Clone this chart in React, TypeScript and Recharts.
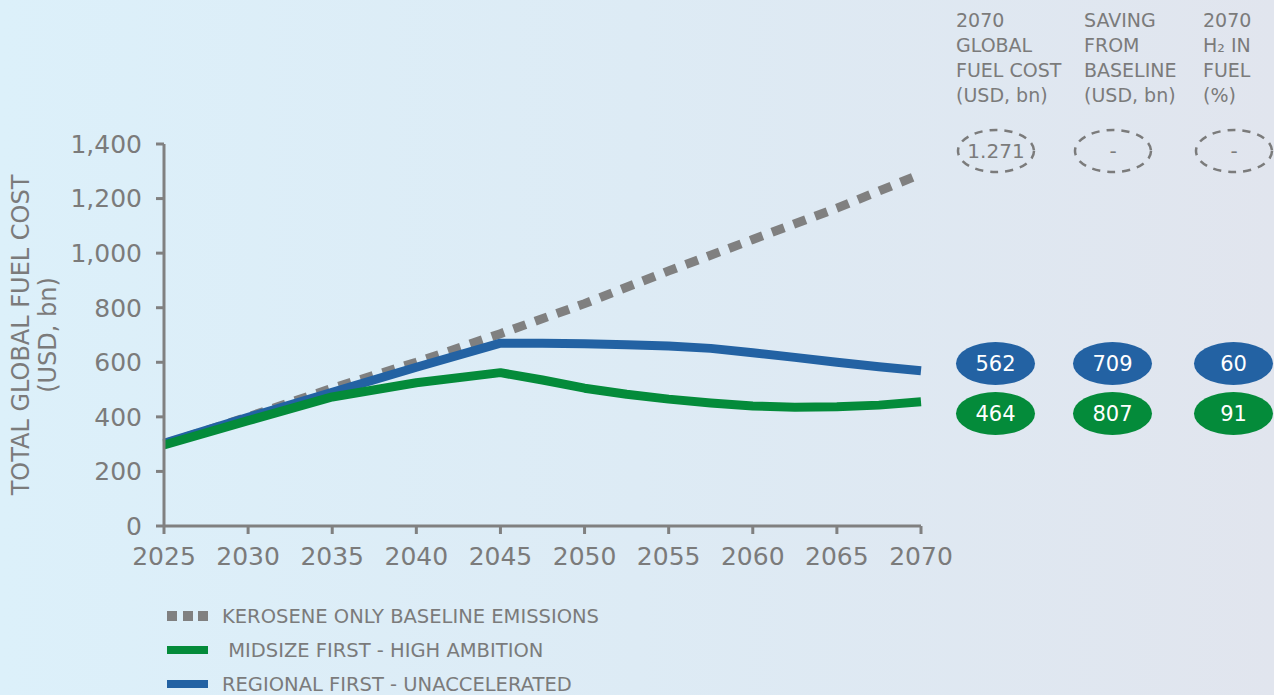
import { LineChart, Line, XAxis, YAxis } from 'recharts';

// kerosene-only baseline, read every 5 years
const baselineYears = [2025, 2030, 2035, 2040, 2045, 2050, 2055, 2060, 2065, 2070];
const keroseneBaseline = [300, 400, 505, 600, 705, 815, 935, 1050, 1165, 1290];

// scenario lines, read every 5 years up to 2045 then every 2.5 years
const scenarioYears = [2025, 2030, 2035, 2040, 2045, 2047.5, 2050, 2052.5, 2055, 2057.5, 2060, 2062.5, 2065, 2067.5, 2070];
const midsizeFirst = [297, 386, 473, 525, 562, 535, 505, 483, 465, 451, 440, 435, 437, 443, 455];
const regionalFirst = [303, 398, 490, 582, 670, 670, 668, 664, 660, 651, 635, 618, 600, 584, 569];

const yTicks = [0, 200, 400, 600, 800, 1000, 1200, 1400];
const xTicks = [2025, 2030, 2035, 2040, 2045, 2050, 2055, 2060, 2065, 2070];

const headers = [
  ['2070', 'GLOBAL', 'FUEL COST', '(USD, bn)'],
  ['SAVING', 'FROM', 'BASELINE', '(USD, bn)'],
  ['2070', 'H\u2082 IN', 'FUEL', '(%)'],
];
const baselineBadges = ['1.271', '-', '-'];
const regionalBadges = ['562', '709', '60'];
const midsizeBadges = ['464', '807', '91'];

const legendItems = [
  { label: 'KEROSENE ONLY BASELINE EMISSIONS', color: '#808080', dashed: true },
  { label: ' MIDSIZE FIRST - HIGH AMBITION', color: '#048b3a', dashed: false },
  { label: 'REGIONAL FIRST - UNACCELERATED', color: '#2362a3', dashed: false },
];

const baselineData = baselineYears.map((year, i) => ({ year, baseline: keroseneBaseline[i] }));
const scenarioData = scenarioYears.map((year, i) => ({
  year,
  midsize: midsizeFirst[i],
  regional: regionalFirst[i],
}));

const FONT = '"DejaVu Sans", sans-serif';
const GREY = '#7b7b7b';
const BLUE = '#2362a3';
const GREEN = '#048b3a';

const colLeft = [956, 1084, 1203];
const ovalLeft = [956, 1073, 1194];

export default function App() {
  return (
    <div
      style={{
        position: 'absolute',
        left: 0,
        top: 0,
        width: 1274,
        height: 695,
        overflow: 'hidden',
        background: 'linear-gradient(90deg, #dcf0fa 0%, #ddebf5 50%, #e1e5ee 100%)',
        fontFamily: FONT,
        color: GREY,
      }}
    >
      <div style={{ position: 'absolute', left: 0, top: 0 }}>
        <LineChart width={960} height={580} margin={{ top: 144, right: 39, left: 0, bottom: 14 }}>
          <XAxis
            dataKey="year"
            type="number"
            domain={[2025, 2070]}
            ticks={xTicks}
            allowDuplicatedCategory={false}
            height={40}
            stroke="#808080"
            strokeWidth={3}
            tickSize={8}
            tickMargin={13}
            tick={{ fill: GREY, fontSize: 25, fontFamily: FONT }}
          />
          <YAxis
            type="number"
            domain={[0, 1400]}
            ticks={yTicks}
            width={164}
            stroke="#808080"
            strokeWidth={3}
            tickSize={8}
            tickMargin={14}
            tickFormatter={(v: number) => v.toLocaleString('en-US')}
            tick={{ fill: GREY, fontSize: 25, fontFamily: FONT }}
          />
          <Line
            data={baselineData}
            type="linear"
            dataKey="baseline"
            stroke="#808080"
            strokeWidth={9}
            strokeDasharray="13 10"
            dot={false}
            isAnimationActive={false}
          />
          <Line
            data={scenarioData}
            type="linear"
            dataKey="regional"
            stroke={BLUE}
            strokeWidth={9}
            strokeLinejoin="round"
            dot={false}
            isAnimationActive={false}
          />
          <Line
            data={scenarioData}
            type="linear"
            dataKey="midsize"
            stroke={GREEN}
            strokeWidth={9}
            strokeLinejoin="round"
            dot={false}
            isAnimationActive={false}
          />
        </LineChart>
      </div>

      {/* y axis title */}
      <svg width={80} height={695} style={{ position: 'absolute', left: 0, top: 0 }}>
        <g transform="translate(21 335) rotate(-90)">
          <text textAnchor="middle" dominantBaseline="central" fontSize={24} fill={GREY} fontFamily={FONT}>
            TOTAL GLOBAL FUEL COST
          </text>
          <text y={27} textAnchor="middle" dominantBaseline="central" fontSize={24} fill={GREY} fontFamily={FONT}>
            (USD, bn)
          </text>
        </g>
      </svg>

      {/* right-hand table */}
      {headers.map((lines, c) => (
        <div
          key={`h-${c}`}
          style={{ position: 'absolute', left: colLeft[c], top: 8, fontSize: 19, lineHeight: '25px', whiteSpace: 'nowrap' }}
        >
          {lines.map((l, i) => (
            <div key={i}>{l}</div>
          ))}
        </div>
      ))}
      <svg width={1274} height={200} style={{ position: 'absolute', left: 0, top: 0 }}>
        {baselineBadges.map((t, c) => (
          <g key={`b-${c}`}>
            <ellipse
              cx={ovalLeft[c] + 40}
              cy={151}
              rx={38}
              ry={21}
              fill="none"
              stroke={GREY}
              strokeWidth={2.5}
              strokeDasharray="8 7"
            />
            <text
              x={ovalLeft[c] + 40}
              y={151}
              textAnchor="middle"
              dominantBaseline="central"
              fontSize={20}
              fill={GREY}
              fontFamily={FONT}
            >
              {t}
            </text>
          </g>
        ))}
      </svg>
      {[regionalBadges, midsizeBadges].map((row, r) =>
        row.map((t, c) => (
          <div
            key={`o-${r}-${c}`}
            style={{
              position: 'absolute',
              left: ovalLeft[c],
              top: r === 0 ? 342 : 392,
              width: 79,
              height: 43,
              borderRadius: '50%',
              background: r === 0 ? BLUE : GREEN,
              color: '#ffffff',
              display: 'flex',
              alignItems: 'center',
              justifyContent: 'center',
              fontSize: 21,
            }}
          >
            {t}
          </div>
        ))
      )}

      {/* legend */}
      {legendItems.map((item, i) => (
        <div
          key={item.label}
          style={{ position: 'absolute', left: 167, top: 604 + i * 34, height: 24, display: 'flex', alignItems: 'center' }}
        >
          {item.dashed ? (
            <div style={{ display: 'flex', width: 41, justifyContent: 'space-between' }}>
              {[0, 1, 2].map((k) => (
                <div key={k} style={{ width: 10, height: 10, background: item.color }} />
              ))}
            </div>
          ) : (
            <div style={{ width: 41, height: 8, background: item.color }} />
          )}
          <span style={{ marginLeft: 14, fontSize: 19.5, whiteSpace: 'pre' }}>{item.label}</span>
        </div>
      ))}
    </div>
  );
}
